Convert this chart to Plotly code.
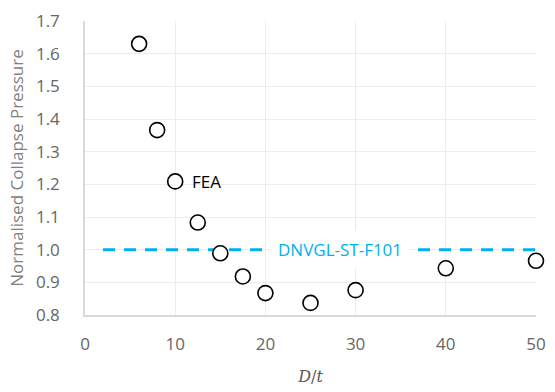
import plotly.graph_objects as go

dt = [6, 8, 10, 12.5, 15, 17.5, 20, 25, 30, 40, 50]
pcr = [1.63, 1.366, 1.209, 1.083, 0.989, 0.918, 0.867, 0.837, 0.876, 0.943, 0.966]
dnv_x = [2, 50]
dnv_y = [1.0, 1.0]
x_ticks = [0, 10, 20, 30, 40, 50]
y_ticks = [0.8, 0.9, 1.0, 1.1, 1.2, 1.3, 1.4, 1.5, 1.6, 1.7]

FONT = "Open Sans"
BLUE = "#00B0F0"

fig = go.Figure()
fig.add_trace(go.Scatter(x=dnv_x, y=dnv_y, mode="lines",
                         line=dict(color=BLUE, width=3, dash="12px,9px"),
                         hoverinfo="skip", showlegend=False))
fig.add_trace(go.Scatter(x=dt, y=pcr, mode="markers",
                         marker=dict(symbol="circle", size=15, color="white",
                                     line=dict(color="black", width=1.6)),
                         cliponaxis=False, showlegend=False))

fig.add_annotation(x=28.3, y=1.0, text="DNVGL-ST-F101", showarrow=False,
                   font=dict(family=FONT, size=17, color=BLUE),
                   bgcolor="white", borderpad=7)
fig.add_annotation(x=11.6, y=1.209, text="FEA", showarrow=False, xanchor="left",
                   font=dict(family=FONT, size=17, color="black"))

fig.update_layout(
    width=555, height=392,
    margin=dict(l=85, r=9, t=19, b=75),
    plot_bgcolor="white", paper_bgcolor="white",
    font=dict(family=FONT, size=17, color="#666666"),
    xaxis=dict(range=[0, 50], tickvals=x_ticks, showgrid=True, gridcolor="#ececec",
               showline=True, linecolor="#d9d9d9", linewidth=1.5,
               ticks="", ticklabelstandoff=13, ticklabeloverflow="allow",
               zeroline=False,
               title=dict(text="<i>D</i>/<i>t</i>",
                          font=dict(family="DejaVu Serif", size=16, color="#595959"),
                          standoff=17)),
    yaxis=dict(range=[0.8, 1.7], tickvals=y_ticks, tickformat=".1f",
               showgrid=True, gridcolor="#ececec",
               showline=True, linecolor="#d9d9d9", linewidth=1.5,
               ticks="", ticklabelstandoff=20, zeroline=False,
               title=dict(text="Normalised Collapse Pressure",
                          font=dict(family=FONT, size=17, color="#7f7f7f"),
                          standoff=8)),
)

fig.write_html("out.html")
